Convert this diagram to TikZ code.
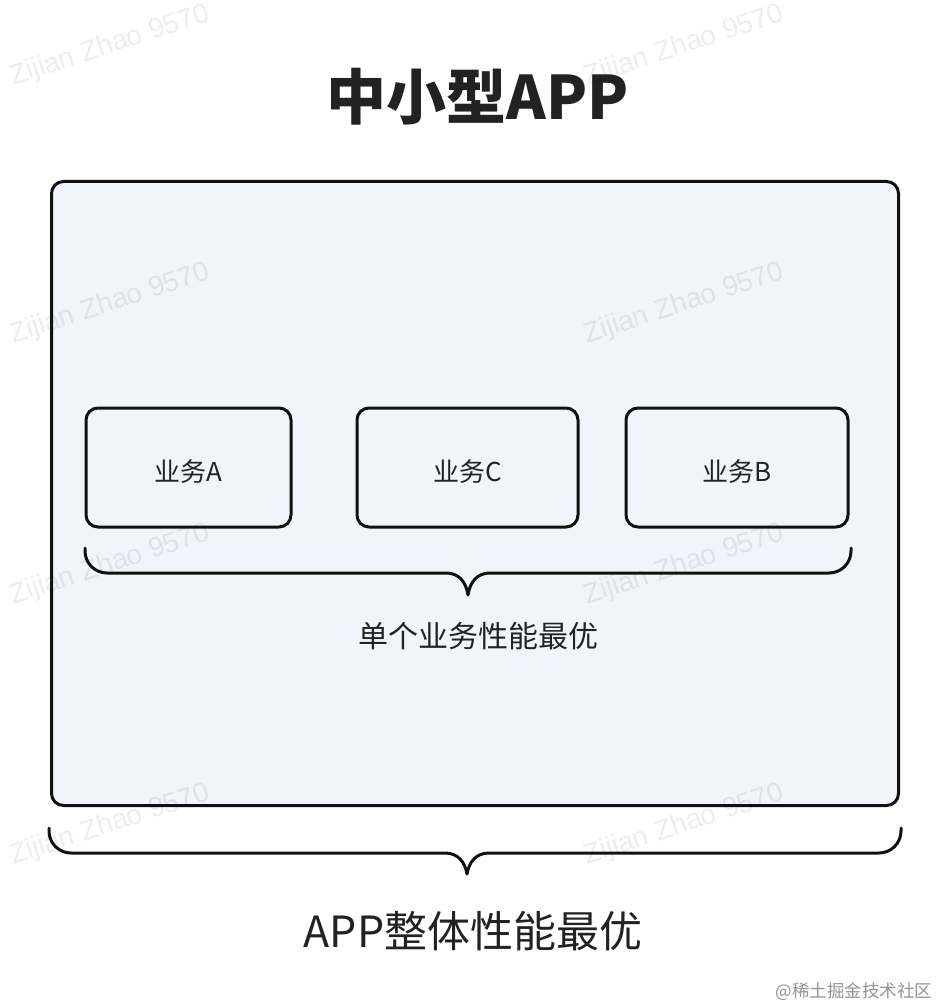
\documentclass[tikz,border=0pt]{standalone}
\usepackage{fontspec}
\setmainfont{Noto Sans CJK SC}
\newfontfamily\markfont{Liberation Sans}
\usetikzlibrary{positioning}

\definecolor{panelfill}{HTML}{F1F4FA}
\definecolor{inkline}{HTML}{111111}
\definecolor{inktext}{HTML}{222222}

\tikzset{
  bizbox/.style={draw=inkline, line width=3pt, rounded corners=12pt,
    minimum height=119pt, inner sep=0pt, text=inktext,
    text height=28pt, text depth=0pt,
    font=\fontsize{26}{26}\selectfont},
  bracket/.style={draw=inkline, line width=3pt, line cap=round, line join=round},
  wmark/.style={text=black, opacity=0.07, rotate=18,
    font=\markfont\fontsize{28}{28}\selectfont}
}

\begin{document}
\begin{tikzpicture}[x=1pt,y=-1pt]

% Canvas
\useasboundingbox (0,0) rectangle (950,1008);
\fill[white] (0,0) rectangle (950,1008);

% Title
\node[text=inktext, font=\bfseries\fontsize{60}{60}\selectfont] (title) at (478,97) {中小型APP};

% Outer panel
\draw[draw=inkline, fill=panelfill, line width=3pt, rounded corners=12pt] (51.5,181.5) rectangle (898.5,805.5);

% The three business boxes
\node[bizbox, minimum width=205pt] (bizA) at (188.5,467.5) {业务A};
\node[bizbox, minimum width=221pt] (bizC) at (467.5,467.5) {业务C};
\node[bizbox, minimum width=222pt] (bizB) at (737,467.5) {业务B};

% Inner brace under the boxes
\coordinate (innertip) at (468,595);
\draw[bracket] (85,548) -- (85,551) to[out=-90,in=180] (107,573) -- (446,573)
  .. controls (459,573) and (466,582) .. (innertip)
  .. controls (470,582) and (477,573) .. (490,573) -- (829,573)
  to[out=0,in=-90] (851,551) -- (851,548);
\node[text=inktext, font=\fontsize{30}{30}\selectfont] (unitlabel) at (478,636) {单个业务性能最优};

% Outer brace under the panel
\coordinate (outertip) at (467,874);
\draw[bracket] (49,828) -- (49,831) to[out=-90,in=180] (71,853) -- (445,853)
  .. controls (458,853) and (465,862) .. (outertip)
  .. controls (469,862) and (476,853) .. (489,853) -- (879,853)
  to[out=0,in=-90] (901,831) -- (901,828);
\node[text=inktext, font=\fontsize{43}{43}\selectfont] (applabel) at (473,931) {APP整体性能最优};

% Watermarks
\foreach \wx in {110,684}
  \foreach \wy in {46,304,565,825}
    \node[wmark] (wm-\wx-\wy) at (\wx,\wy) {Zijian Zhao 9570};
\node[anchor=east, text=black!42, font=\fontsize{17.5}{17.5}\selectfont] (sitemark) at (936,992) {@稀土掘金技术社区};

\end{tikzpicture}
\end{document}
